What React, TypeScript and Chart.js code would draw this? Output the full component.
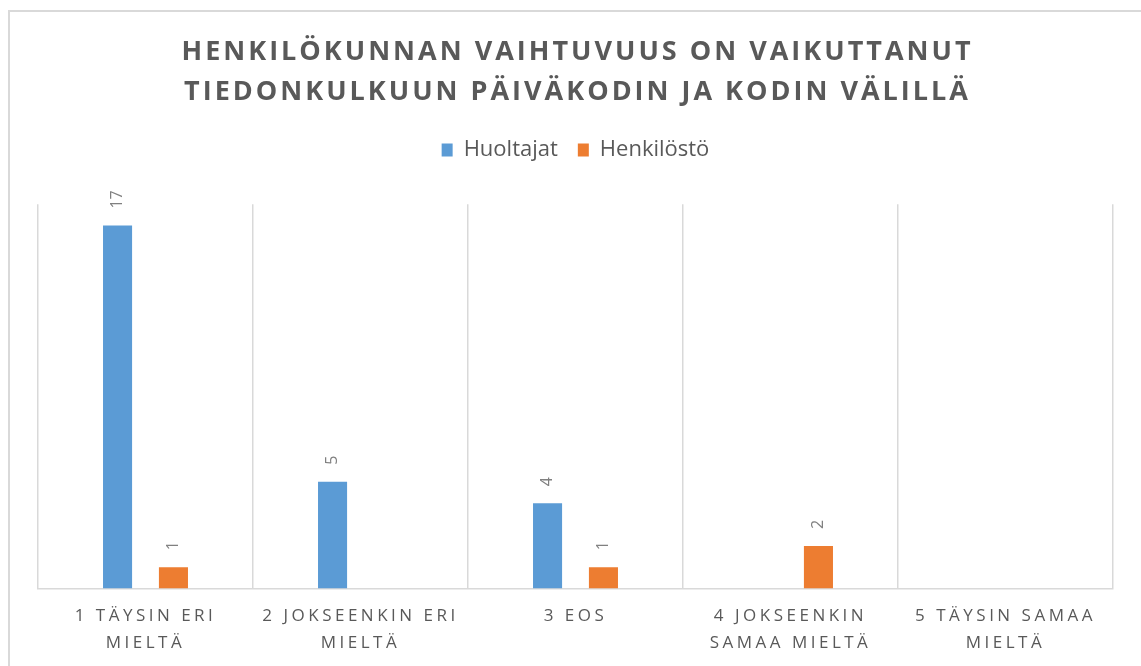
import React, { useEffect, useRef } from "react";
import { Chart, registerables, CategoryScale } from "chart.js";

Chart.register(...registerables);

class SpacedCategoryScale extends CategoryScale {
  static id = "spacedCategory";
  static defaults = CategoryScale.defaults;
  drawLabels(chartArea: any) {
    const ctx: any = this.ctx;
    ctx.save();
    ctx.letterSpacing = "3.5px";
    super.drawLabels(chartArea);
    ctx.restore();
  }
}
Chart.register(SpacedCategoryScale as any);

const titleLines = [
  "HENKILÖKUNNAN VAIHTUVUUS ON VAIKUTTANUT",
  "TIEDONKULKUUN PÄIVÄKODIN JA KODIN VÄLILLÄ",
];
const categories = [
  ["1 TÄYSIN ERI", "MIELTÄ"],
  ["2 JOKSEENKIN ERI", "MIELTÄ"],
  ["3 EOS"],
  ["4 JOKSEENKIN", "SAMAA MIELTÄ"],
  ["5 TÄYSIN SAMAA", "MIELTÄ"],
];
const huoltajat = [17, 5, 4, null, null];
const henkilosto = [1, null, 1, 2, null];
const seriesNames = ["Huoltajat", "Henkilöstö"];
const yMax = 18;

const titlePlugin = {
  id: "spacedTitle",
  afterDraw(chart: any) {
    const ctx: any = chart.ctx;
    ctx.save();
    ctx.font = "bold 27px 'Open Sans'";
    ctx.letterSpacing = "3px";
    ctx.fillStyle = "#595959";
    ctx.textAlign = "center";
    ctx.textBaseline = "middle";
    const cx = chart.width / 2;
    titleLines.forEach((line, i) => ctx.fillText(line, cx + 2, 40 + i * 40));
    ctx.restore();
  },
};

const labelPlugin = {
  id: "barLabels",
  afterDraw(chart: any) {
    const ctx = chart.ctx;
    ctx.save();
    ctx.font = "16px 'Open Sans'";
    ctx.fillStyle = "#808080";
    ctx.textAlign = "left";
    ctx.textBaseline = "middle";
    chart.data.datasets.forEach((ds: any, di: number) => {
      const meta = chart.getDatasetMeta(di);
      meta.data.forEach((el: any, i: number) => {
        const v = ds.data[i];
        if (v === null || v === undefined) return;
        ctx.save();
        ctx.translate(el.x, el.y - 17);
        ctx.rotate(-Math.PI / 2);
        ctx.fillText(String(v), 0, 0);
        ctx.restore();
      });
    });
    ctx.restore();
  },
};

export default function App() {
  const ref = useRef<HTMLCanvasElement>(null);
  useEffect(() => {
    if (!ref.current) return;
    const chart = new Chart(ref.current, {
      type: "bar",
      data: {
        labels: categories as any,
        datasets: [
          {
            label: seriesNames[0],
            data: huoltajat as any,
            backgroundColor: "#5B9BD5",
            categoryPercentage: 0.52,
            barPercentage: 0.52,
          },
          {
            label: seriesNames[1],
            data: henkilosto as any,
            backgroundColor: "#ED7D31",
            categoryPercentage: 0.52,
            barPercentage: 0.52,
          },
        ],
      },
      options: {
        animation: false,
        responsive: false,
        layout: { padding: { top: 107, left: 28, right: 28, bottom: 8 } },
        plugins: {
          title: {
            display: true,
            text: " ",
            font: { size: 1 },
            padding: { top: 32, bottom: 0 },
            weight: 2000,
          } as any,
          tooltip: { enabled: false },
          legend: {
            display: true,
            position: "top",
            weight: 3000,
            labels: {
              boxWidth: 11,
              boxHeight: 13,
              padding: 20,
              color: "#595959",
              font: { family: "'Open Sans'", size: 22 },
            },
          } as any,
        },
        scales: {
          x: {
            type: "spacedCategory" as any,
            offset: true,
            grid: {
              offset: true,
              color: "#d9d9d9",
              lineWidth: 1.5,
              drawTicks: false,
            },
            border: { color: "#d9d9d9", width: 1.5 },
            ticks: {
              color: "#595959",
              font: { family: "'Open Sans'", size: 17, lineHeight: 1.6 },
              padding: 14,
              maxRotation: 0,
              autoSkip: false,
            },
          },
          y: {
            display: false,
            min: 0,
            max: yMax,
          },
        },
      },
      plugins: [titlePlugin, labelPlugin],
    });
    return () => chart.destroy();
  }, []);
  return (
    <div
      style={{
        position: "absolute",
        left: 8,
        top: 10,
        width: 1133,
        height: 656,
        overflow: "hidden",
        borderLeft: "2px solid #d9d9d9",
        borderTop: "2px solid #d9d9d9",
        background: "#fff",
      }}
    >
      <canvas ref={ref} width={1131} height={667} style={{ display: "block" }} />
    </div>
  );
}
